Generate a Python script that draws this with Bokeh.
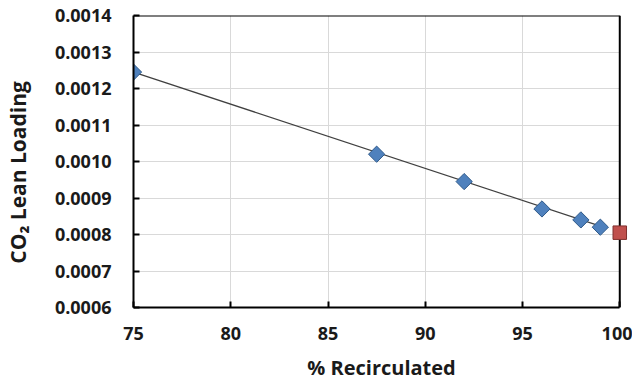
import math
from bokeh.plotting import figure
from bokeh.models import Range1d, FixedTicker, NumeralTickFormatter
from bokeh.embed import file_html
from bokeh.resources import INLINE

# data
recirc = [75, 87.5, 92, 96, 98, 99]
loading = [0.001245, 0.00102, 0.000945, 0.00087, 0.00084, 0.00082]
trend_x = [75, 99]
trend_y = [0.001245, 0.000823]
ref_x = [100]
ref_y = [0.000805]
x_ticks = [75, 80, 85, 90, 95, 100]
y_ticks = [0.0006, 0.0007, 0.0008, 0.0009, 0.0010, 0.0011, 0.0012, 0.0013, 0.0014]

X0, X1 = 75, 100
Y0, Y1 = 0.0006, 0.0014
FONT = "Open Sans"

p = figure(width=632, height=383, output_backend="svg", toolbar_location=None,
           x_range=Range1d(X0, 100.5), y_range=Range1d(Y0, Y1),
           min_border_left=132, min_border_right=3, min_border_top=15, min_border_bottom=75)

p.outline_line_color = None
p.background_fill_color = "white"
p.border_fill_color = "white"

for ax in (p.xaxis[0], p.yaxis[0]):
    ax.axis_line_color = "black"
    ax.axis_line_width = 2
    ax.major_tick_in = 6
    ax.major_tick_out = 0
    ax.major_tick_line_color = "black"
    ax.major_tick_line_width = 2
    ax.minor_tick_line_color = None
    ax.major_label_text_font = FONT
    ax.major_label_text_font_style = "bold"
    ax.major_label_text_font_size = "18px"
    ax.major_label_text_color = "#1a1a1a"
    ax.axis_label_text_font = FONT
    ax.axis_label_text_font_style = "bold"
    ax.axis_label_text_font_size = "20px"
    ax.axis_label_text_color = "#1a1a1a"

p.xaxis.bounds = (X0, X1)
p.xaxis.ticker = FixedTicker(ticks=x_ticks)
p.yaxis.ticker = FixedTicker(ticks=y_ticks)
p.yaxis.formatter = NumeralTickFormatter(format="0.0000")
p.xaxis.axis_label = "% Recirculated"
# trailing no-break spaces nudge the title slightly below the frame centre, as in the original
p.yaxis.axis_label = "CO₂ Lean Loading\u00a0\u00a0\u00a0\u00a0"
p.yaxis.axis_label_text_font_size = "21px"
p.xaxis.major_label_standoff = 19
p.yaxis.major_label_standoff = 22
p.xaxis.axis_label_standoff = 11
p.yaxis.axis_label_standoff = 20

p.grid.grid_line_color = "#d9d9d9"
p.grid.grid_line_width = 1
p.ygrid.cross_bounds = (X0, X1)

# frame top and right edges
p.segment(x0=[X0, X1], y0=[Y1, Y0], x1=[X1, X1], y1=[Y1, Y1],
          line_color="black", line_width=2)

p.line(trend_x, trend_y, line_color="#404040", line_width=1.2)
p.scatter(recirc, loading, marker="square", angle=math.pi / 4, size=11.5,
          fill_color="#4f81bd", line_color="#2f5a8a", line_width=1)
p.scatter(ref_x, ref_y, marker="square", size=13.5,
          fill_color="#c0504d", line_color="#7f2f2d", line_width=1)

open("out.html", "w").write(file_html(p, INLINE))
